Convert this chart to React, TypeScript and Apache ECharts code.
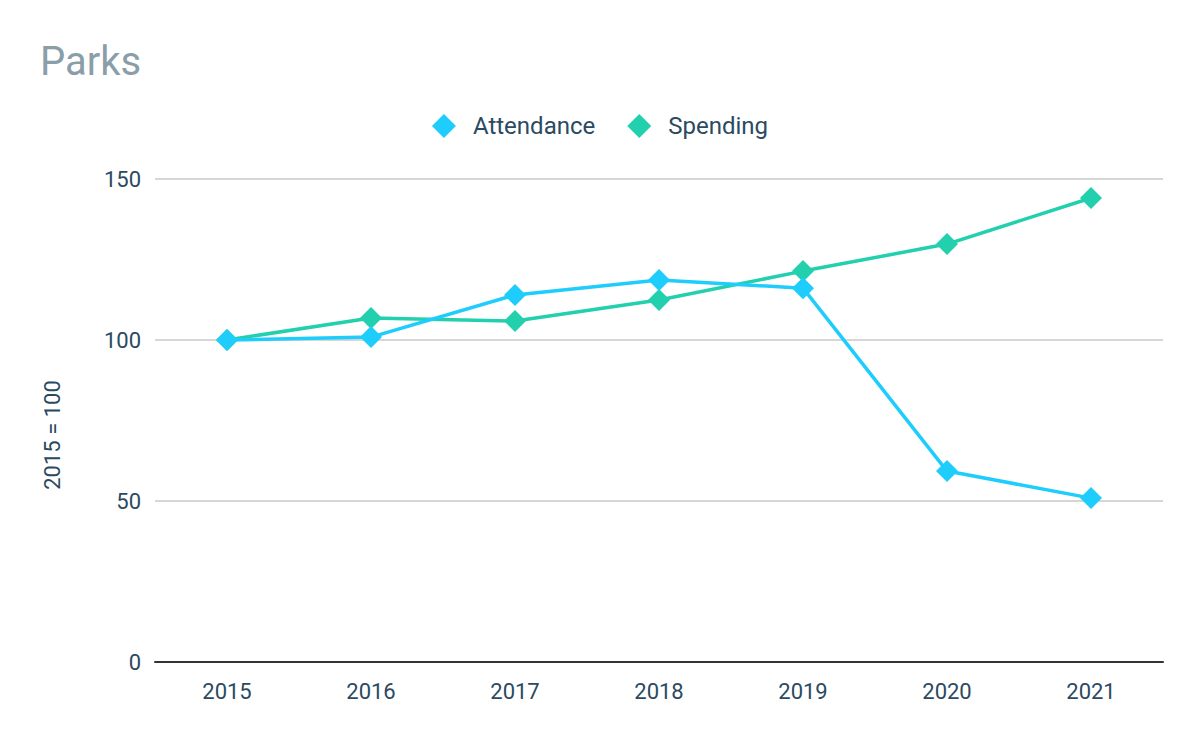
import React, { useEffect, useRef } from "react";
import * as echarts from "echarts";

const years = ["2015", "2016", "2017", "2018", "2019", "2020", "2021"];
const attendance = [100, 100.9, 114.0, 118.6, 116.1, 59.3, 50.9];
const spending = [100, 106.8, 105.9, 112.4, 121.4, 129.8, 144.1];
const yTicks = { min: 0, max: 150, interval: 50 };

const textColor = "#2b4a62";
const font = "Roboto";

export default function App() {
  const ref = useRef<HTMLDivElement>(null);
  useEffect(() => {
    const chart = echarts.init(ref.current!, undefined, { renderer: "svg" });
    chart.setOption({
      animation: false,
      backgroundColor: "#ffffff",
      title: {
        text: "Parks",
        left: 35,
        top: 36,
        textStyle: { fontFamily: font, fontSize: 40, fontWeight: "normal", color: "#8a9ea9" },
      },
      legend: {
        top: 109,
        left: "center",
        itemWidth: 24,
        itemHeight: 24,
        itemGap: 32,
        icon: "diamond",
        textStyle: { fontFamily: font, fontSize: 24, color: textColor, padding: [0, 0, 0, 12] },
        data: ["Attendance", "Spending"],
      },
      grid: { left: 155, right: 37, top: 179, bottom: 80 },
      xAxis: {
        type: "category",
        data: years,
        boundaryGap: true,
        axisLine: { lineStyle: { color: "#333333", width: 2 } },
        axisTick: { show: false },
        axisLabel: { fontFamily: font, fontSize: 22, color: textColor, margin: 18 },
      },
      yAxis: {
        type: "value",
        min: yTicks.min,
        max: yTicks.max,
        interval: yTicks.interval,
        axisLine: { show: false },
        axisTick: { show: false },
        splitLine: { lineStyle: { color: "#c8c8c8", width: 1.5 } },
        axisLabel: { fontFamily: font, fontSize: 22, color: textColor, margin: 14 },
      },
      graphic: [
        {
          type: "text",
          x: 52,
          y: 435,
          rotation: Math.PI / 2,
          style: {
            text: "2015 = 100",
            fontFamily: font,
            fontSize: 22,
            fill: textColor,
            align: "center",
            verticalAlign: "middle",
          },
        },
      ],
      series: [
        {
          name: "Spending",
          type: "line",
          data: spending,
          symbol: "diamond",
          symbolSize: 22,
          z: 2,
          itemStyle: { color: "#22d0ad" },
          lineStyle: { color: "#22d0ad", width: 3.5 },
        },
        {
          name: "Attendance",
          type: "line",
          data: attendance,
          symbol: "diamond",
          symbolSize: 22,
          z: 3,
          itemStyle: { color: "#1fcdfc" },
          lineStyle: { color: "#1fcdfc", width: 3.5 },
        },
      ],
    });
    return () => chart.dispose();
  }, []);
  return <div ref={ref} style={{ width: 1200, height: 742, position: "absolute", left: 0, top: 0 }} />;
}
